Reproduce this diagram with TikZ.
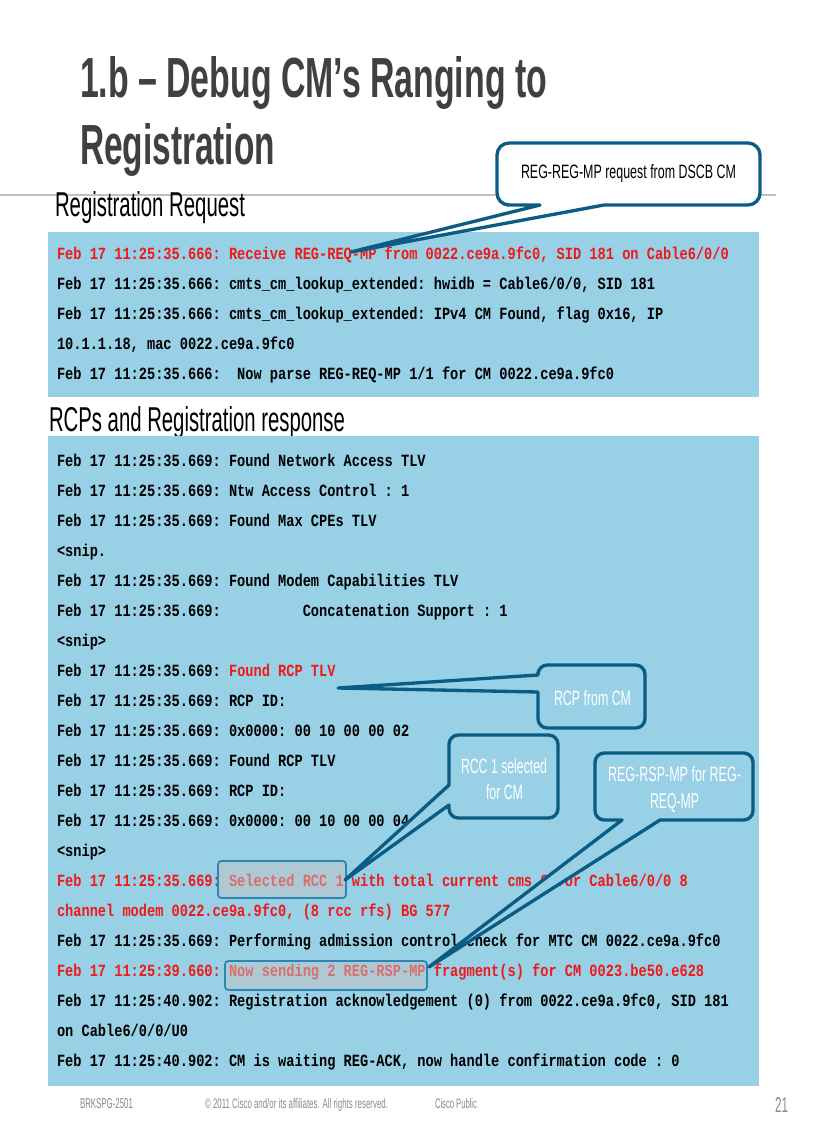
\documentclass[tikz,border=0pt]{standalone}
\usepackage{fontspec}
\usepackage{graphicx}
\setmainfont{Liberation Sans}
\newfontfamily\logfont{Liberation Mono}[BoldFont={Liberation Mono Bold},BoldFeatures={FakeStretch=0.8}]
\newdimen\pxu \pxu=0.75pt
\newcommand{\fitbox}[3]{\resizebox{#1\pxu}{#2\pxu}{#3}}
\newcommand{\rd}[1]{\textcolor{logred}{#1}}
\definecolor{panel}{HTML}{98D0E6}
\definecolor{teal}{HTML}{0A5C82}
\definecolor{logred}{HTML}{F01818}
\definecolor{titlegray}{HTML}{404040}
\definecolor{footgray}{HTML}{8A8A8A}
\definecolor{rulegray}{HTML}{C0C0C0}
\definecolor{hlfill}{HTML}{C4C4C4}
\definecolor{hledge}{HTML}{2A87B5}
\tikzset{
  x=0.75pt,y=-0.75pt,
  panelbox/.style={fill=panel,draw=none},
  logline/.style={anchor=base west,inner sep=0pt,outer sep=0pt,font=\logfont\bfseries\fontsize{12.8pt}{14pt}\selectfont\frenchspacing},
  label/.style={anchor=base west,inner sep=0pt,outer sep=0pt},
  calloutbox/.style={draw=teal,line width=2.5pt,line join=round},
  hlbox/.style={draw=hledge,line width=1.3pt,fill=hlfill,fill opacity=0.5,rounded corners=2.5pt},
}
\begin{document}
\begin{tikzpicture}
\useasboundingbox (0,0) rectangle (816,1123);
\fill[white] (0,0) rectangle (816,1123);
\draw[rulegray,line width=0.8pt] (0,195) -- (776,195);
% title
\node[label,text=titlegray] (t1) at (80,98) {\fitbox{467}{41}{\bfseries 1.b – Debug CM’s Ranging to}};
\node[label,text=titlegray] (t2) at (80,165) {\fitbox{195}{41}{\bfseries Registration}};
\node[label] (h1) at (55,217) {\fitbox{190}{25}{Registration Request}};
\node[label] (h2) at (49,431) {\fitbox{296}{25}{RCPs and Registration response}};
% panels
\path[panelbox] (48,232) rectangle (759,397);
\path[panelbox] (48,436) rectangle (759,1086);
% log 1
\node[logline] (a1) at (57,259) {\rd{Feb 17 11:25:35.666: Receive REG-REQ-MP from 0022.ce9a.9fc0, SID 181 on Cable6/0/0}};
\node[logline] (a2) at (57,289) {Feb 17 11:25:35.666: cmts\_cm\_lookup\_extended: hwidb = Cable6/0/0, SID 181};
\node[logline] (a3) at (57,319) {Feb 17 11:25:35.666: cmts\_cm\_lookup\_extended: IPv4 CM Found, flag 0x16, IP};
\node[logline] (a4) at (57,349) {10.1.1.18, mac 0022.ce9a.9fc0};
\node[logline] (a5) at (57,379) {Feb 17 11:25:35.666:\ \ Now parse REG-REQ-MP 1/1 for CM 0022.ce9a.9fc0};
% log 2
\node[logline] (b1) at (57,466) {Feb 17 11:25:35.669: Found Network Access TLV};
\node[logline] (b2) at (57,496) {Feb 17 11:25:35.669: Ntw Access Control : 1};
\node[logline] (b3) at (57,526) {Feb 17 11:25:35.669: Found Max CPEs TLV};
\node[logline] (b4) at (57,556) {<snip.};
\node[logline] (b5) at (57,586) {Feb 17 11:25:35.669: Found Modem Capabilities TLV};
\node[logline] (b6) at (57,616) {Feb 17 11:25:35.669:\ \ \ \ \ \ \ \ \ \ Concatenation Support : 1};
\node[logline] (b7) at (57,646) {<snip>};
\node[logline] (b8) at (57,676) {Feb 17 11:25:35.669: \rd{Found RCP TLV}};
\node[logline] (b9) at (57,706) {Feb 17 11:25:35.669: RCP ID:};
\node[logline] (b10) at (57,736) {Feb 17 11:25:35.669: 0x0000: 00 10 00 00 02};
\node[logline] (b11) at (57,766) {Feb 17 11:25:35.669: Found RCP TLV};
\node[logline] (b12) at (57,796) {Feb 17 11:25:35.669: RCP ID:};
\node[logline] (b13) at (57,826) {Feb 17 11:25:35.669: 0x0000: 00 10 00 00 04};
\node[logline] (b14) at (57,856) {<snip>};
\node[logline] (b15) at (57,886) {\rd{Feb 17 11:25:35.669: Selected RCC 1 with total current cms 0 for Cable6/0/0 8}};
\node[logline] (b16) at (57,916) {\rd{channel modem 0022.ce9a.9fc0, (8 rcc rfs) BG 577}};
\node[logline] (b17) at (57,946) {Feb 17 11:25:35.669: Performing admission control check for MTC CM 0022.ce9a.9fc0};
\node[logline] (b18) at (57,976) {\rd{Feb 17 11:25:39.660: Now sending 2 REG-RSP-MP fragment(s) for CM 0023.be50.e628}};
\node[logline] (b19) at (57,1006) {Feb 17 11:25:40.902: Registration acknowledgement (0) from 0022.ce9a.9fc0, SID 181};
\node[logline] (b20) at (57,1036) {on Cable6/0/0/U0};
\node[logline] (b21) at (57,1066) {Feb 17 11:25:40.902: CM is waiting REG-ACK, now handle confirmation code : 0};
% highlights
\draw[hlbox] (218,861) rectangle (346,898);
\draw[hlbox] (225,961) rectangle (427,990);
% callouts: the body is drawn with rounded corners, the pointer with sharp ones
\draw[calloutbox,fill=white,rounded corners=9pt]
  (628,143) -- (760,143) -- (760,205) [sharp corners] -- (604,205) -- (351,252) -- (540,205) -- (507,205) [rounded corners=9pt] -- (497,205) -- (497,143) -- cycle;
\node[label] (c1) at (521,179) {\fitbox{215}{14}{REG-REG-MP request from DSCB CM}};
\draw[calloutbox,fill=panel,rounded corners=7pt]
  (590,665) -- (645,665) -- (645,728) -- (538,728) [sharp corners] -- (538,692) -- (338,688) -- (538,675) -- (538,672) [rounded corners=7pt] -- (538,665) -- cycle;
\node[label,text=white] (c2) at (554,705) {\fitbox{77}{15}{RCP from CM}};
\draw[calloutbox,fill=panel,rounded corners=7pt]
  (500,735) -- (558,735) -- (558,818) -- (449,818) [sharp corners] -- (449,805) -- (345,880) -- (449,785) -- (449,745) [rounded corners=7pt] -- (449,735) -- cycle;
\node[label,text=white] (c3a) at (461,773) {\fitbox{86}{15}{RCC 1 selected}};
\node[label,text=white] (c3b) at (486,799) {\fitbox{37}{15}{for CM}};
\draw[calloutbox,fill=panel,rounded corners=7pt]
  (670,753) -- (753,753) -- (753,820) [sharp corners] -- (660,820) -- (429,967) -- (622,820) -- (605,820) [rounded corners=7pt] -- (595,820) -- (595,753) -- cycle;
\node[label,text=white] (c4a) at (608,781) {\fitbox{133}{15}{REG-RSP-MP for REG-}};
\node[label,text=white] (c4b) at (650,808) {\fitbox{49}{15}{REQ-MP}};
% footer
\node[label,text=footgray] (f1) at (80,1108) {\fitbox{53}{10}{BRKSPG-2501}};
\node[label,text=footgray] (f2) at (205,1108) {\fitbox{183}{10}{© 2011 Cisco and/or its affiliates. All rights reserved.}};
\node[label,text=footgray] (f3) at (435,1108) {\fitbox{42}{10}{Cisco Public}};
\node[label,text=footgray] (f4) at (775,1112) {\fitbox{13}{15}{21}};
\end{tikzpicture}
\end{document}
